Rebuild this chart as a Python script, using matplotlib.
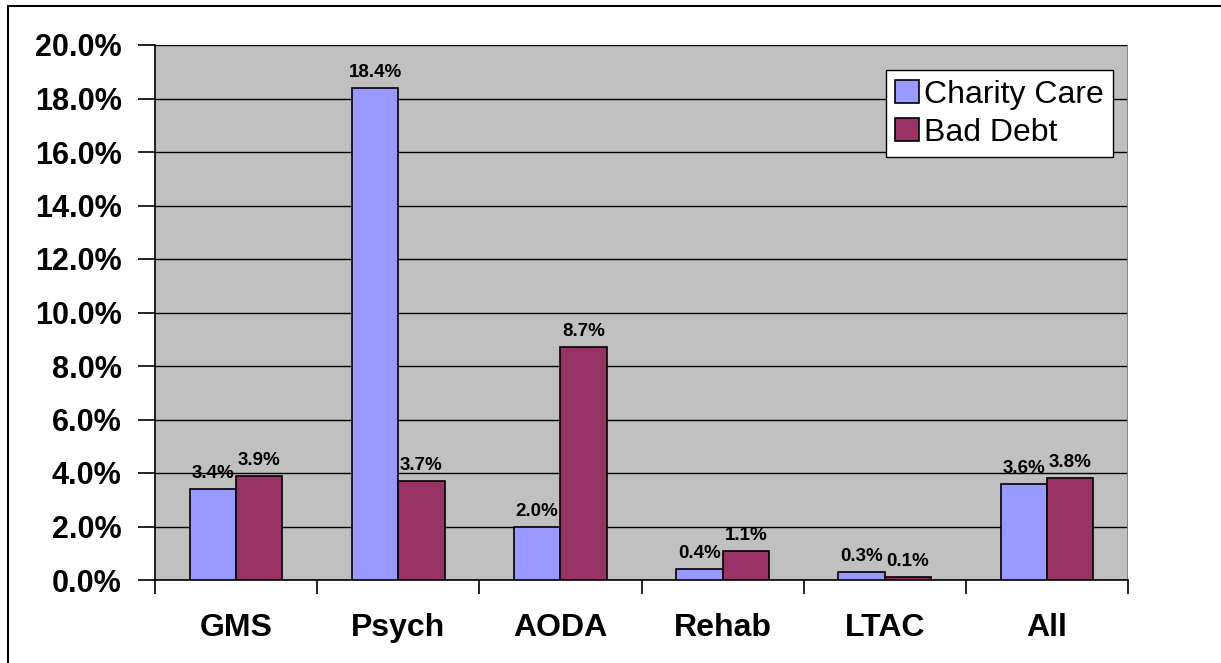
import matplotlib
matplotlib.use("Agg")
import matplotlib.pyplot as plt
from matplotlib.patches import Rectangle
import numpy as np

# === Datos ===
categorias = ["GMS", "Psych", "AODA", "Rehab", "LTAC", "All"]
charity_care = [3.4, 18.4, 2.0, 0.4, 0.3, 3.6]
bad_debt = [3.9, 3.7, 8.7, 1.1, 0.1, 3.8]
y_ticks = [0, 2, 4, 6, 8, 10, 12, 14, 16, 18, 20]

plt.rcParams['font.family'] = ['Liberation Sans', 'DejaVu Sans']

fig = plt.figure(figsize=(12.21, 6.63), dpi=100)
ax = fig.add_axes([155 / 1221, 1 - 580 / 663, 973 / 1221, 535 / 663])

x = np.arange(len(categorias))
ancho = 1 / 3.5
b1 = ax.bar(x - ancho / 2, charity_care, ancho, color="#9999FF", edgecolor="black",
            linewidth=1.2, label="Charity Care", zorder=3)
b2 = ax.bar(x + ancho / 2, bad_debt, ancho, color="#993366", edgecolor="black",
            linewidth=1.2, label="Bad Debt", zorder=3)

for barras in (b1, b2):
    for b in barras:
        ax.annotate(f"{b.get_height():.1f}%", (b.get_x() + b.get_width() / 2, b.get_height()),
                    xytext=(0, 5), textcoords="offset points", ha="center", va="bottom",
                    fontsize=13.5, fontweight="bold", zorder=4)

ax.set_facecolor("#C0C0C0")
ax.set_xlim(-0.5, len(categorias) - 0.5)
ax.set_ylim(0, 20)
ax.set_yticks(y_ticks)
ax.set_yticklabels([f"{v:.1f}%" for v in y_ticks], fontsize=22, fontweight="bold")
ax.yaxis.grid(True, color="black", linewidth=1.0, zorder=0)
ax.tick_params(axis="y", length=12, width=1.2, pad=12)

ax.set_xticks(np.arange(len(categorias) + 1) - 0.5)
ax.set_xticklabels([])
ax.set_xticks(x, minor=True)
ax.set_xticklabels(categorias, minor=True, fontsize=23, fontweight="bold")
ax.tick_params(axis="x", which="major", length=10, width=1.2)
ax.tick_params(axis="x", which="minor", length=0, pad=24)

for lado in ("top", "right"):
    ax.spines[lado].set_visible(False)
ax.spines["left"].set_linewidth(1.2)
ax.spines["bottom"].set_linewidth(1.2)
ax.axvline(len(categorias) - 0.5, color="#808080", linewidth=2, zorder=2)

leg = ax.legend(loc="upper left", bbox_to_anchor=(0.751, 0.953), borderaxespad=0,
                fontsize=23, frameon=True, fancybox=False, edgecolor="black",
                framealpha=1, facecolor="white",
                handlelength=0.75, handleheight=0.75, handletextpad=0.15,
                borderpad=0.3, labelspacing=0.25)
leg.get_frame().set_linewidth(1.0)
leg.set_zorder(5)

# marco exterior
fig.patches.append(Rectangle((8 / 1221, -0.05), 1.1, (663 - 6) / 663 + 0.05,
                             transform=fig.transFigure, fill=False,
                             edgecolor="black", linewidth=1.5))

plt.savefig("out.png", dpi=100)
